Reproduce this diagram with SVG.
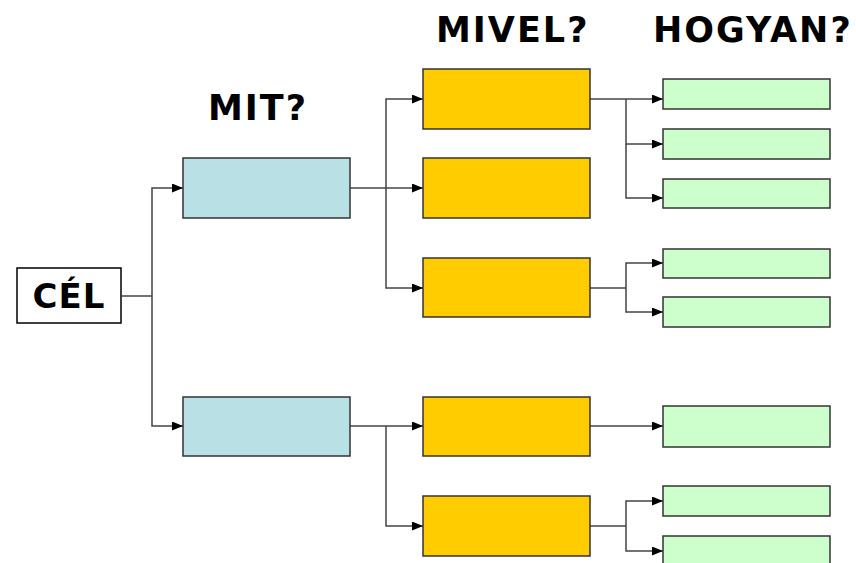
<svg xmlns="http://www.w3.org/2000/svg" width="856" height="563" viewBox="0 0 856 563">
<defs>
<marker id="arr" markerUnits="userSpaceOnUse" markerWidth="11" markerHeight="9" refX="11" refY="4.5" orient="auto">
<path d="M0,0 L11,4.5 L0,9 Z" fill="#000"/>
</marker>
<style>
.box{stroke:#333;stroke-width:1.5}
.blue{fill:#B9E0E4}
.orange{fill:#FFCC00}
.green{fill:#CCFFCC}
.hdr{font-family:"DejaVu Sans",Verdana,sans-serif;font-weight:bold;font-size:35px;fill:#000;letter-spacing:2px}
.ln{fill:none;stroke:#444;stroke-width:1.5}
</style>
</defs>
<rect width="856" height="563" fill="#fff"/>
<text class="hdr" x="208" y="120">MIT?</text>
<text class="hdr" x="436" y="42">MIVEL?</text>
<text class="hdr" x="653" y="42">HOGYAN?</text>
<g id="connectors">
<path class="ln" d="M122,296 H152"/>
<path class="ln" d="M152,296 V188 H183" marker-end="url(#arr)"/>
<path class="ln" d="M152,296 V426 H183" marker-end="url(#arr)"/>
<path class="ln" d="M350,188 H423" marker-end="url(#arr)"/>
<path class="ln" d="M386,188 V99 H423" marker-end="url(#arr)"/>
<path class="ln" d="M386,188 V288 H423" marker-end="url(#arr)"/>
<path class="ln" d="M350,426 H423" marker-end="url(#arr)"/>
<path class="ln" d="M386,426 V526 H423" marker-end="url(#arr)"/>
<path class="ln" d="M590,99 H663" marker-end="url(#arr)"/>
<path class="ln" d="M626,99 V144 H663" marker-end="url(#arr)"/>
<path class="ln" d="M626,144 V198 H663" marker-end="url(#arr)"/>
<path class="ln" d="M590,288 H626"/>
<path class="ln" d="M626,288 V263 H663" marker-end="url(#arr)"/>
<path class="ln" d="M626,288 V312 H663" marker-end="url(#arr)"/>
<path class="ln" d="M590,426 H663" marker-end="url(#arr)"/>
<path class="ln" d="M590,526 H626"/>
<path class="ln" d="M626,526 V501 H663" marker-end="url(#arr)"/>
<path class="ln" d="M626,526 V551 H663" marker-end="url(#arr)"/>
</g>
<g id="cel">
<rect x="17" y="268" width="104" height="55" fill="#fff" stroke="#000" stroke-width="1.5"/>
<text x="69" y="308" text-anchor="middle" font-family="DejaVu Sans, Verdana, sans-serif" font-weight="bold" font-size="34" letter-spacing="1">CÉL</text>
</g>
<g id="mit1"><rect class="box blue" x="183" y="158" width="167" height="60"/></g>
<g id="mit2"><rect class="box blue" x="183" y="397" width="167" height="59"/></g>
<g id="mivel1"><rect class="box orange" x="423" y="69" width="167" height="60"/></g>
<g id="mivel2"><rect class="box orange" x="423" y="158" width="167" height="60"/></g>
<g id="mivel3"><rect class="box orange" x="423" y="258" width="167" height="59"/></g>
<g id="mivel4"><rect class="box orange" x="423" y="397" width="167" height="59"/></g>
<g id="mivel5"><rect class="box orange" x="423" y="496" width="167" height="60"/></g>
<g id="hogyan1"><rect class="box green" x="663" y="79" width="167" height="30"/></g>
<g id="hogyan2"><rect class="box green" x="663" y="129" width="167" height="30"/></g>
<g id="hogyan3"><rect class="box green" x="663" y="179" width="167" height="29"/></g>
<g id="hogyan4"><rect class="box green" x="663" y="249" width="167" height="29"/></g>
<g id="hogyan5"><rect class="box green" x="663" y="297" width="167" height="30"/></g>
<g id="hogyan6"><rect class="box green" x="663" y="406" width="167" height="41"/></g>
<g id="hogyan7"><rect class="box green" x="663" y="486" width="167" height="30"/></g>
<g id="hogyan8"><rect class="box green" x="663" y="536" width="167" height="30"/></g>
</svg>
